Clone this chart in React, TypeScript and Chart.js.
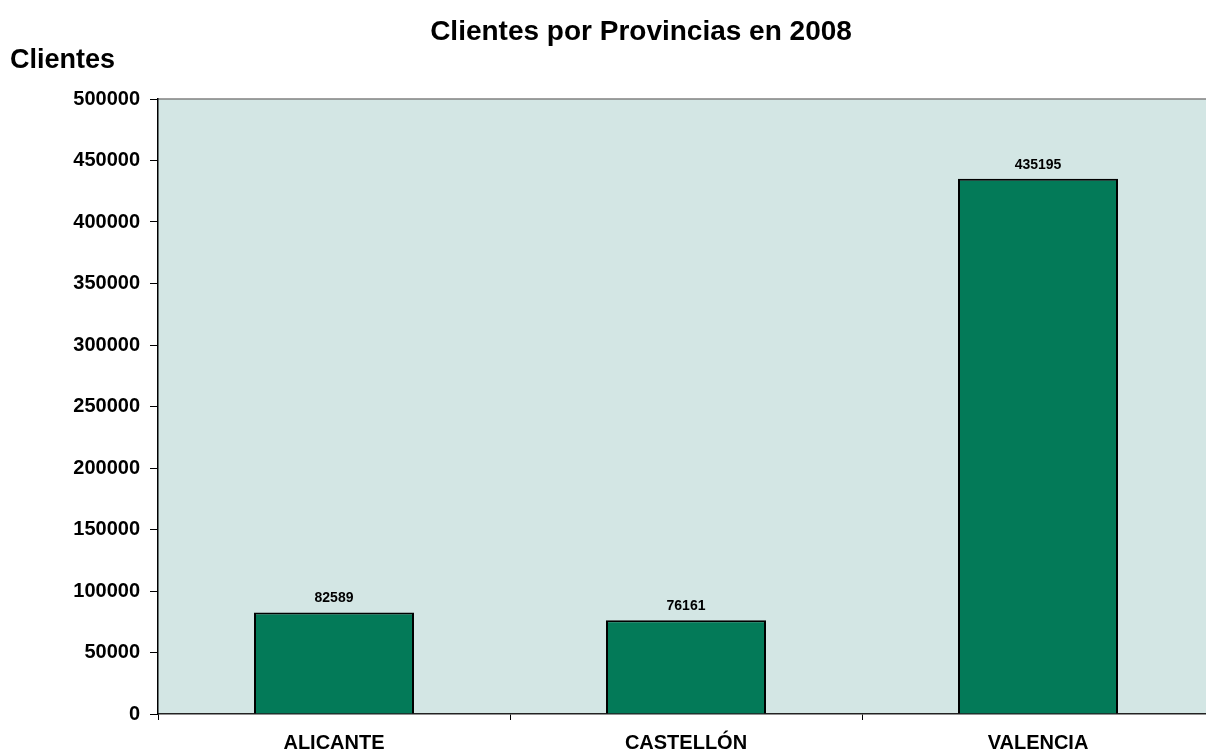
import React, { useEffect, useRef } from "react";
import { Chart, registerables } from "chart.js";

Chart.register(...registerables);

const categories = ["ALICANTE", "CASTELLÓN", "VALENCIA"];
const clientes = [82589, 76161, 435195];
const chartTitle = "Clientes por Provincias en 2008";
const yTitle = "Clientes";
const yMax = 500000;
const yStep = 50000;

const FONT = "'Liberation Sans', Arial, Helvetica, sans-serif";

const overlayPlugin = {
  id: "overlay",
  beforeDraw(chart: any) {
    const { ctx, chartArea } = chart;
    ctx.save();
    ctx.fillStyle = "#d3e6e4";
    ctx.fillRect(chartArea.left, chartArea.top, chartArea.right - chartArea.left, chartArea.bottom - chartArea.top);
    ctx.strokeStyle = "#808080";
    ctx.lineWidth = 1.5;
    ctx.beginPath();
    ctx.moveTo(chartArea.left, chartArea.top);
    ctx.lineTo(chartArea.right, chartArea.top);
    ctx.stroke();
    ctx.restore();
  },
  afterDraw(chart: any) {
    const { ctx } = chart;
    ctx.save();
    ctx.fillStyle = "#000";
    ctx.textAlign = "center";
    ctx.textBaseline = "alphabetic";
    ctx.font = `bold 28px ${FONT}`;
    ctx.fillText(chartTitle, 641, 40);
    ctx.textAlign = "left";
    ctx.font = `bold 27px ${FONT}`;
    ctx.fillText(yTitle, 10, 68);
    const meta = chart.getDatasetMeta(0);
    ctx.textAlign = "center";
    ctx.font = `bold 14px ${FONT}`;
    meta.data.forEach((bar: any, i: number) => {
      ctx.fillText(String(clientes[i]), bar.x, bar.y - 10);
    });
    ctx.restore();
  },
};

export default function App() {
  const ref = useRef<HTMLCanvasElement>(null);
  useEffect(() => {
    if (!ref.current) return;
    const chart = new Chart(ref.current, {
      type: "bar",
      data: {
        labels: categories,
        datasets: [
          {
            data: clientes,
            backgroundColor: "#037a58",
            borderColor: "#000000",
            borderWidth: 2,
            categoryPercentage: 1,
            barPercentage: 1 / 2.2,
          },
        ],
      },
      options: {
        responsive: false,
        animation: false,
        layout: { padding: { left: 0, top: 99, right: 16, bottom: 0 } },
        plugins: { legend: { display: false }, tooltip: { enabled: false }, title: { display: false } },
        scales: {
          x: {
            offset: true,
            grid: { offset: true, drawOnChartArea: false, drawTicks: true, tickLength: 6, color: "#000", lineWidth: 1 },
            border: { display: true, color: "#222", width: 1.5 },
            ticks: { color: "#000", font: { family: FONT, size: 20, weight: "bold" }, padding: 11, maxRotation: 0 },
            afterFit: (s: any) => { s.height = 39; },
          },
          y: {
            min: 0,
            max: yMax,
            grid: { drawOnChartArea: false, drawTicks: true, tickLength: 8, color: "#000", lineWidth: 1 },
            border: { display: true, color: "#000", width: 1.5 },
            ticks: { stepSize: yStep, color: "#000", font: { family: FONT, size: 20, weight: "bold" }, padding: 10, callback: (v: any) => String(v) },
            afterFit: (s: any) => { s.width = 158; },
          },
        },
      } as any,
      plugins: [overlayPlugin],
    });
    return () => chart.destroy();
  }, []);
  return (
    <div style={{ position: "fixed", left: 0, top: 0, width: 1206, height: 753, overflow: "hidden", background: "#fff" }}>
      <canvas ref={ref} width={1230} height={753} style={{ width: 1230, height: 753, display: "block" }} />
    </div>
  );
}
